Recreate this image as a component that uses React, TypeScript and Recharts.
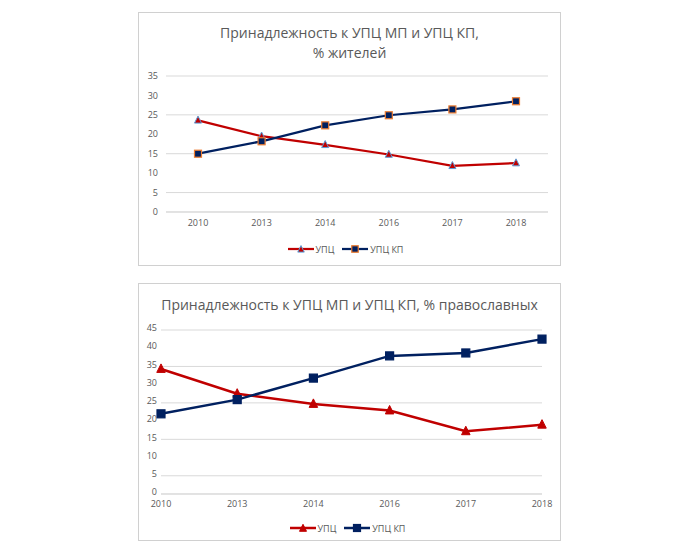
import { LineChart, Line, XAxis, YAxis, CartesianGrid, Legend } from "recharts";

const years = ["2010", "2013", "2014", "2016", "2017", "2018"];

// % жителей
const upcResidents = [23.6, 19.5, 17.3, 14.8, 11.9, 12.6];
const upcKpResidents = [15.0, 18.2, 22.3, 24.9, 26.4, 28.5];
const residentsTicks = [0, 5, 10, 15, 20, 25, 30, 35];

// % православных
const upcOrthodox = [34.3, 27.5, 24.7, 22.9, 17.2, 19.0];
const upcKpOrthodox = [22.0, 25.9, 31.8, 37.9, 38.7, 42.5];
const orthodoxTicks = [0, 5, 10, 15, 20, 25, 30, 35, 40, 45];

const RED = "#C00000";
const NAVY = "#002060";
const GRID = "#D9D9D9";
const TEXT = "#595959";
const FONT = "'Open Sans', sans-serif";

const residentsData = years.map((year, i) => ({
  year,
  upc: upcResidents[i],
  upcKp: upcKpResidents[i],
}));

const orthodoxData = years.map((year, i) => ({
  year,
  upc: upcOrthodox[i],
  upcKp: upcKpOrthodox[i],
}));

function triangle(cx: number, cy: number, s: number) {
  return `M${cx},${cy - s * 0.6}L${cx + s / 2},${cy + s * 0.4}L${cx - s / 2},${cy + s * 0.4}Z`;
}

function makeTriangleDot(size: number, stroke: string) {
  return (props: any) => {
    const { cx, cy, index } = props;
    if (cx == null || cy == null) return <g key={index} />;
    return (
      <path
        key={index}
        d={triangle(cx, cy, size)}
        fill={RED}
        stroke={stroke}
        strokeWidth={1}
      />
    );
  };
}

function makeSquareDot(size: number, stroke: string) {
  return (props: any) => {
    const { cx, cy, index } = props;
    if (cx == null || cy == null) return <g key={index} />;
    return (
      <rect
        key={index}
        x={cx - size / 2}
        y={cy - size / 2}
        width={size}
        height={size}
        fill={NAVY}
        stroke={stroke}
        strokeWidth={1.2}
      />
    );
  };
}

function LegendContent({
  triStroke,
  sqStroke,
  lineWidth,
  size,
}: {
  triStroke: string;
  sqStroke: string;
  lineWidth: number;
  size: number;
}) {
  const item = (label: string, color: string, marker: "tri" | "sq") => (
    <div style={{ display: "flex", alignItems: "center", marginRight: 8 }}>
      <svg width={26} height={12}>
        <line x1={0} y1={6} x2={26} y2={6} stroke={color} strokeWidth={lineWidth} />
        {marker === "tri" ? (
          <path d={triangle(13, 6.5, size)} fill={RED} stroke={triStroke} strokeWidth={1} />
        ) : (
          <rect
            x={13 - size / 2}
            y={6 - size / 2}
            width={size}
            height={size}
            fill={NAVY}
            stroke={sqStroke}
            strokeWidth={1.2}
          />
        )}
      </svg>
      <span style={{ marginLeft: 2, fontSize: 9, color: TEXT, fontFamily: FONT }}>
        {label}
      </span>
    </div>
  );
  return (
    <div
      style={{
        display: "flex",
        justifyContent: "center",
        alignItems: "center",
        height: 20,
      }}
    >
      {item("УПЦ", RED, "tri")}
      {item("УПЦ КП", NAVY, "sq")}
    </div>
  );
}

function Frame({
  left,
  top,
  width,
  height,
  children,
}: {
  left: number;
  top: number;
  width: number;
  height: number;
  children: React.ReactNode;
}) {
  return (
    <div style={{ position: "absolute", left, top, width, height, background: "#fff" }}>
      {children}
      <div
        style={{
          position: "absolute",
          inset: 0,
          border: "1px solid #D0D0D0",
          pointerEvents: "none",
        }}
      />
    </div>
  );
}

const tick = { fontSize: 9, fill: TEXT, fontFamily: FONT };

export default function App() {
  return (
    <div
      style={{
        position: "absolute",
        left: 0,
        top: 0,
        width: 700,
        height: 543,
        background: "#fff",
        fontFamily: FONT,
      }}
    >
      <Frame left={138} top={12} width={423} height={254}>
        <div
          style={{
            position: "absolute",
            left: 0,
            width: 423,
            top: 11,
            textAlign: "center",
            fontSize: 14,
            lineHeight: "20px",
            color: TEXT,
          }}
        >
          Принадлежность к УПЦ МП и УПЦ КП,
          <br />% жителей
        </div>
        <LineChart
          width={423}
          height={254}
          data={residentsData}
          margin={{ top: 64, right: 13, left: 0, bottom: 7 }}
        >
          <CartesianGrid stroke={GRID} vertical={false} />
          <XAxis
            dataKey="year"
            tick={tick}
            axisLine={{ stroke: GRID }}
            tickLine={false}
            height={27}
            padding={{ left: 32, right: 32 }}
          />
          <YAxis
            domain={[0, 35]}
            ticks={residentsTicks}
            tick={tick}
            axisLine={false}
            tickLine={false}
            width={28}
          />
          <Legend
            verticalAlign="bottom"
            height={20}
            wrapperStyle={{ left: 0, width: 423 }}
            content={() => (
              <LegendContent triStroke="#5B9BD5" sqStroke="#ED7D31" lineWidth={2.25} size={6.5} />
            )}
          />
          <Line
            dataKey="upc"
            name="УПЦ"
            stroke={RED}
            strokeWidth={2.25}
            dot={makeTriangleDot(7, "#5B9BD5")}
            isAnimationActive={false}
          />
          <Line
            dataKey="upcKp"
            name="УПЦ КП"
            stroke={NAVY}
            strokeWidth={2.25}
            dot={makeSquareDot(7, "#ED7D31")}
            isAnimationActive={false}
          />
        </LineChart>
      </Frame>

      <Frame left={138} top={283} width={423} height={258}>
        <div
          style={{
            position: "absolute",
            left: 0,
            width: 423,
            top: 12,
            textAlign: "center",
            fontSize: 14,
            lineHeight: "20px",
            color: TEXT,
          }}
        >
          Принадлежность к УПЦ МП и УПЦ КП, % православных
        </div>
        <LineChart
          width={423}
          height={258}
          data={orthodoxData}
          margin={{ top: 47, right: 19, left: 0, bottom: 3 }}
        >
          <CartesianGrid stroke={GRID} vertical={false} />
          <XAxis
            dataKey="year"
            tick={tick}
            axisLine={{ stroke: GRID }}
            tickLine={false}
            tickSize={0}
            tickMargin={7}
            height={24}
          />
          <YAxis
            domain={[0, 45]}
            ticks={orthodoxTicks}
            tick={{ ...tick, dy: -2 }}
            axisLine={false}
            tickLine={false}
            tickSize={0}
            tickMargin={4}
            width={23}
          />
          <Legend
            verticalAlign="bottom"
            height={20}
            wrapperStyle={{ left: 2, width: 423 }}
            content={() => (
              <LegendContent triStroke={RED} sqStroke={NAVY} lineWidth={2.5} size={7} />
            )}
          />
          <Line
            dataKey="upc"
            name="УПЦ"
            stroke={RED}
            strokeWidth={2.5}
            dot={makeTriangleDot(8.5, RED)}
            isAnimationActive={false}
          />
          <Line
            dataKey="upcKp"
            name="УПЦ КП"
            stroke={NAVY}
            strokeWidth={2.5}
            dot={makeSquareDot(8, NAVY)}
            isAnimationActive={false}
          />
        </LineChart>
      </Frame>
    </div>
  );
}
